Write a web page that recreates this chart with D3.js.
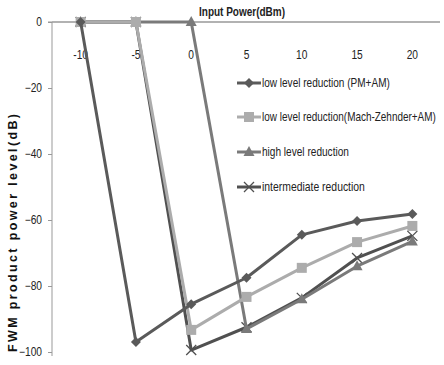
<!DOCTYPE html>
<html>
<head>
<meta charset="utf-8">
<script src="https://cdn.jsdelivr.net/npm/d3@7"></script>
<style>
  body { margin: 0; background: #fff; }
  text { font-family: "Liberation Sans", Arial, sans-serif; }
</style>
</head>
<body>
<div id="chart"></div>
<script>
var categories = ["-10", "-5", "0", "5", "10", "15", "20"];
var yTicks = [0, -20, -40, -60, -80, -100];

var pmAm = [0, -97, -85.5, -77.5, -64.5, -60.3, -58.2];
var machZehnder = [0, 0, -93.3, -83.3, -74.5, -66.7, -61.8];
var highLevel = [0, 0, 0, -93, -84, -74, -66.5];
var intermediate = [0, 0, -99.4, -92.5, -83.6, -71.5, -64.8];

var seriesNames = [
  "low level reduction (PM+AM)",
  "low level reduction(Mach-Zehnder+AM)",
  "high level reduction",
  "intermediate reduction"
];

var series = [
  { name: seriesNames[0], values: pmAm, color: "#5a5a5a", marker: "diamond" },
  { name: seriesNames[1], values: machZehnder, color: "#acacac", marker: "square" },
  { name: seriesNames[2], values: highLevel, color: "#7a7a7a", marker: "triangle" },
  { name: seriesNames[3], values: intermediate, color: "#505050", marker: "cross" }
];

// squeeze text horizontally to look like a narrow font
function narrow(sel, f) {
  sel.each(function() {
    var w = this.getComputedTextLength();
    d3.select(this).attr("textLength", w * f).attr("lengthAdjust", "spacingAndGlyphs");
  });
}

var svg = d3.select("#chart").append("svg")
  .attr("width", 444)
  .attr("height", 365);

var x = d3.scalePoint()
  .domain(categories)
  .range([53, 440])
  .padding(0.5);

var y = d3.scaleLinear()
  .domain([0, -100])
  .range([22, 352]);

// y axis
var yAxis = svg.append("g")
  .attr("transform", "translate(52,0)")
  .call(d3.axisLeft(y).tickValues(yTicks).tickSize(4).tickPadding(6).tickFormat(d3.format("d")));
yAxis.select(".domain").attr("stroke", "#999").attr("d", "M-4,22H0V356");
yAxis.selectAll(".tick line").attr("stroke", "#999");
yAxis.selectAll(".tick text")
  .style("font-size", "12px")
  .attr("fill", "#222")
  .call(narrow, 0.85);

// x axis line at 0
svg.append("line")
  .attr("x1", 52)
  .attr("y1", y(0))
  .attr("x2", 440)
  .attr("y2", y(0))
  .attr("stroke", "#999")
  .attr("stroke-width", 1.5);

svg.selectAll(".xlab")
  .data(categories)
  .enter().append("text")
  .attr("class", "xlab")
  .attr("x", function(d) { return x(d); })
  .attr("y", 59)
  .attr("text-anchor", "middle")
  .style("font-size", "12px")
  .attr("fill", "#222")
  .text(function(d) { return d; })
  .call(narrow, 0.85);

svg.append("text")
  .attr("x", 242)
  .attr("y", 16)
  .attr("text-anchor", "middle")
  .attr("textLength", 86)
  .attr("lengthAdjust", "spacingAndGlyphs")
  .style("font-size", "12px")
  .style("font-weight", "bold")
  .attr("fill", "#222")
  .text("Input Power(dBm)");

svg.append("text")
  .attr("transform", "translate(17,233) rotate(-90)")
  .attr("text-anchor", "middle")
  .attr("textLength", 238)
  .attr("lengthAdjust", "spacing")
  .style("font-size", "12.5px")
  .style("font-weight", "bold")
  .attr("fill", "#111")
  .text("FWM product power level(dB)");

function drawMarker(g, type, color) {
  if (type === "diamond") {
    g.append("path").attr("d", "M0,-5L5,0L0,5L-5,0Z").attr("fill", color);
  } else if (type === "square") {
    g.append("rect").attr("x", -5).attr("y", -5).attr("width", 10).attr("height", 10).attr("fill", color);
  } else if (type === "triangle") {
    g.append("path").attr("d", "M0,-6L5.5,4L-5.5,4Z").attr("fill", color);
  } else {
    g.append("path").attr("d", "M-5,-5L5,5M-5,5L5,-5")
      .attr("stroke", color).attr("stroke-width", 1.3).attr("fill", "none");
  }
}

var line = d3.line()
  .x(function(d, i) { return x(categories[i]); })
  .y(function(d) { return y(d); });

// draw in reverse so first series ends on top like Excel
series.slice().reverse().forEach(function(s) {
  svg.append("path")
    .datum(s.values)
    .attr("d", line)
    .attr("fill", "none")
    .attr("stroke", s.color)
    .attr("stroke-width", 3)
    .attr("stroke-linejoin", "round");
  s.values.forEach(function(v, i) {
    var g = svg.append("g")
      .attr("transform", "translate(" + x(categories[i]) + "," + y(v) + ")");
    drawMarker(g, s.marker, s.color);
  });
});

// legend
var legendY = [83, 117, 152, 187];
var legendW = [128, 174, 87, 103];
series.forEach(function(s, i) {
  var ly = legendY[i];
  svg.append("line")
    .attr("x1", 237)
    .attr("y1", ly)
    .attr("x2", 261)
    .attr("y2", ly)
    .attr("stroke", s.color)
    .attr("stroke-width", 3);
  var g = svg.append("g").attr("transform", "translate(249," + ly + ")");
  drawMarker(g, s.marker, s.color);
  var t = svg.append("text")
    .style("font-size", "12px")
    .attr("fill", "#222")
    .text(s.name);
  var sx = legendW[i] / t.node().getComputedTextLength();
  t.attr("transform", "translate(262," + (ly + 4) + ") scale(" + sx + ",1)");
});
</script>
</body>
</html>
